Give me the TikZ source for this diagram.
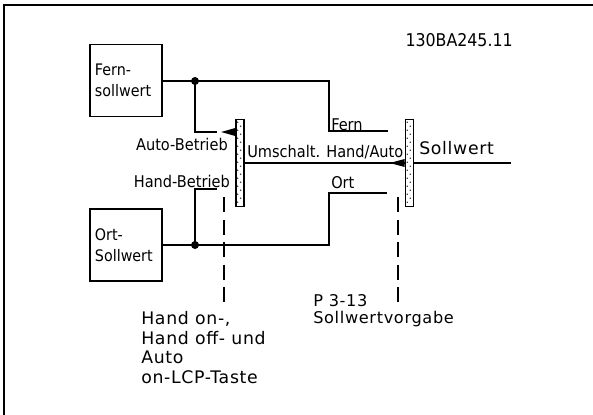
\documentclass[tikz,border=0pt]{standalone}
\usepackage{fontspec}
\setmainfont{DejaVu Sans}[LetterSpace=4]
\newfontfamily\labelfont{DejaVu Sans Condensed}
\usetikzlibrary{calc}

\begin{document}
\begin{tikzpicture}[
    x=0.025cm, y=-0.025cm,
    box/.style={rectangle, draw, line width=1.2pt, minimum width=1.8cm, minimum height=1.8cm, text width=1.55cm, align=left, font=\labelfont\fontsize{11.3}{15}\selectfont},
    bar/.style={rectangle, draw, line width=1.2pt, fill=white, minimum width=0.2cm, minimum height=2.175cm, inner sep=0pt},
    tag/.style={inner sep=0pt, font=\labelfont\fontsize{11.5}{13}\selectfont},
    note/.style={inner sep=0pt, align=left, font=\fontsize{12.3}{14}\selectfont},
    wire/.style={line width=1.2pt},
    guide/.style={line width=1.2pt, dash pattern=on 11pt off 5pt},
    joint/.style={circle, fill, inner sep=0pt, minimum size=0.2cm}
]
    \useasboundingbox (0,0) rectangle (593,415);
    \draw[line width=1pt] (593,5) -- (4,5) -- (4,415);

    \node[box] (fern) at (126,80.5) {Fern-\\sollwert};
    \node[box] (ort) at (126,245) {Ort-\\Sollwert};
    \node[bar] (umsch) at (240,163) {};
    \node[bar] (vorgabe) at (409.5,163) {};
    \node[joint] (fernjoint) at (195,81) {};
    \node[joint] (ortjoint) at (195,245) {};

    % dotted filling of the switch bars
    \foreach \b in {umsch, vorgabe}
        \foreach \k in {0,...,20}
            \fill ($(\b.north west)+({2.5+3*mod(\k,2)},{4*\k+3.5})$) circle (0.018cm);

    \coordinate (fernend) at (388,131);
    \coordinate (ortend) at (387,193);
    \coordinate (autoend) at (217,132);
    \coordinate (handend) at (217,189);
    \coordinate (out) at (511,163);
    \coordinate (keytop) at (224,197);
    \coordinate (keybot) at (224,303);
    \coordinate (partop) at (398,197);
    \coordinate (parbot) at (398,303);

    \draw[wire] (fern.east |- fernjoint) -- (fernjoint.center) -| (329,131) -- (fernend);
    \draw[wire] (fernjoint.center) |- (autoend);
    \draw[wire] (ort.east) -- (ortjoint.center) -| (329,193) -- (ortend);
    \draw[wire] (ortjoint.center) |- (handend);
    \draw[wire] (umsch.east) -- (vorgabe.west);
    \draw[wire] (vorgabe.east) -- (out);

    % contacts
    \fill ($(umsch.west)+(-14,-31)$) -- ++(14,-4) -- ++(0,8) -- cycle;
    \fill ($(vorgabe.west)+(-15,0)$) -- ++(15,-4) -- ++(0,8) -- cycle;

    \draw[guide] (keytop) -- (keybot);
    \draw[guide] (partop) -- (parbot);

    \node[tag, anchor=east] (autolbl) at (228,144) {Auto-Betrieb};
    \node[tag, anchor=east] (handlbl) at (230,181) {Hand-Betrieb};
    \node[tag, anchor=west] (umschlbl) at (247,152) {Umschalt. Hand/Auto};
    \node[tag, anchor=west] (fernlbl) at (331,125) {Fern};
    \node[tag, anchor=west] (ortlbl) at (331,183) {Ort};
    \node[inner sep=0pt, anchor=west, font=\fontsize{12.3}{14}\selectfont] (outlbl) at (419,148) {Sollwert};
    \node[tag, anchor=east, font=\labelfont\fontsize{12.5}{14}\selectfont] (code) at (513,40) {130BA245.11};

    \node[note, anchor=north west] (keys) at (141,311) {Hand on-,\\Hand off- und\\Auto\\on-LCP-Taste};
    \node[note, anchor=north west, font=\fontsize{11.5}{12}\selectfont] (param) at (313,294) {P 3-13\\Sollwertvorgabe};
\end{tikzpicture}
\end{document}
